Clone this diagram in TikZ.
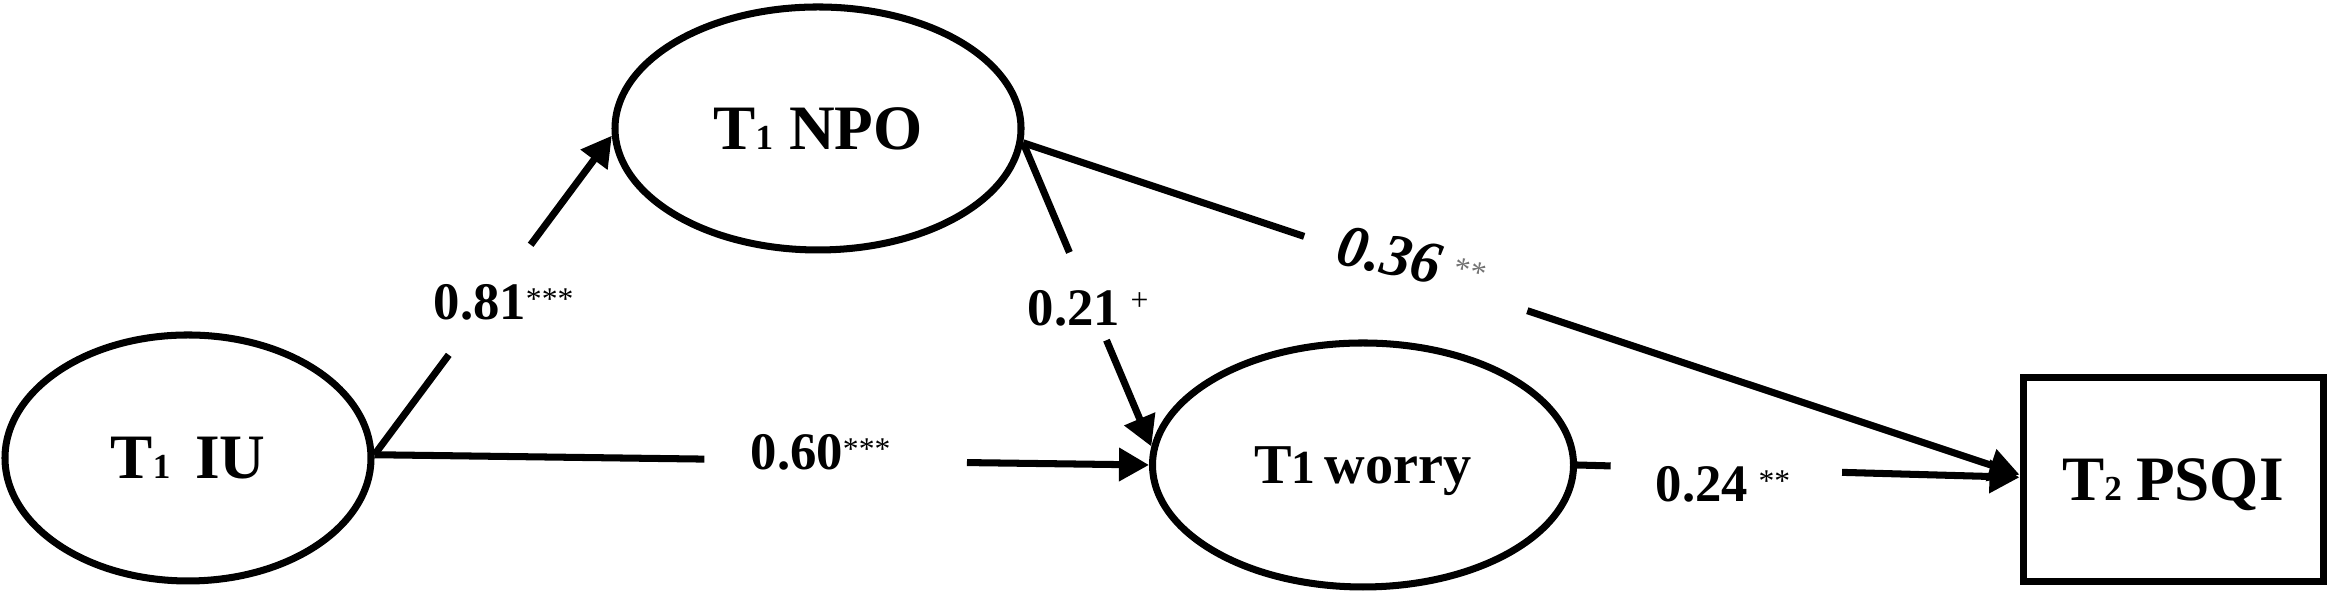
\documentclass[tikz,border=0pt]{standalone}
\usepackage{fontspec}
\setmainfont{Liberation Serif}
\usetikzlibrary{arrows.meta,calc,shapes.geometric}
\newcommand\mysub[1]{{\fontsize{10}{10}\selectfont #1}}
\newcommand\mystars[1]{\raisebox{3pt}{\fontsize{9}{9}\selectfont\mdseries\upshape #1}}
\newcommand\myplus{\raisebox{4.5pt}{\fontsize{9}{9}\selectfont\mdseries +}}
\begin{document}
\begin{tikzpicture}[
  lw/.style={line width=2pt},
  latent/.style={ellipse, draw, lw, inner sep=0pt, text depth=0pt,
    font=\bfseries\fontsize{18}{20}\selectfont},
  observed/.style={rectangle, draw, lw, inner sep=0pt, text depth=0pt,
    font=\bfseries\fontsize{18}{20}\selectfont},
  edge/.style={lw},
  arr/.style={lw,-{Triangle[length=0.30cm,width=0.32cm]}},
  coef/.style={inner sep=0pt, font=\bfseries\fontsize{15}{18}\selectfont},
]
\useasboundingbox (0,0) rectangle (23.33,5.96);

% nodes
\node[latent, minimum width=3.66cm, minimum height=2.46cm] (iu) at (1.88,1.38) {T\mysub{1}\hspace{7pt}IU};
\node[latent, minimum width=4.06cm, minimum height=2.43cm] (npo) at (8.18,4.675) {T\mysub{1} NPO};
\node[latent, minimum width=4.21cm, minimum height=2.44cm,
      font=\bfseries\fontsize{16}{18}\selectfont] (worry) at (13.63,1.31) {T{\fontsize{13.5}{14}\selectfont 1}\,worry};
\node[observed, minimum width=3.00cm, minimum height=2.04cm] (psqi) at (21.73,1.16) {T\mysub{2}\hspace{4pt}PSQI};

% IU -> NPO
\draw[edge] (iu.1) -- ($(iu.1)!0.313!(npo.182)$);
\draw[arr] ($(iu.1)!0.658!(npo.182)$) -- (npo.182);
% IU -> worry
\draw[edge] (iu.1) -- ($(iu.1)!0.426!(worry.west)$);
\draw[arr] ($(iu.1)!0.765!(worry.west)$) -- (worry.west);
% NPO -> worry
\draw[edge] (npo.-4) -- ($(npo.-4)!0.361!(worry.175)$);
\draw[arr] ($(npo.-4)!0.65!(worry.175)$) -- (worry.175);
% NPO -> PSQI
\draw[edge] (npo.-4) -- ($(npo.-4)!0.282!(psqi.178)$);
\draw[arr] ($(npo.-4)!0.506!(psqi.178)$) -- (psqi.178);
% worry -> PSQI
\draw[edge] (worry.east) -- ($(worry.east)!0.076!(psqi.179)$);
\draw[arr] ($(worry.east)!0.599!(psqi.179)$) -- (psqi.179);

% coefficients
\node[coef, anchor=base west] (l81) at (4.33,2.76) {0.81\mystars{***}};
\node[coef, anchor=base west] (l60) at (7.50,1.26) {0.60\mystars{***}};
\node[coef, anchor=base west] (l21) at (10.27,2.70) {0.21\hspace{3pt}\myplus};
\node[coef, rotate=-12, font=\bfseries\itshape\fontsize{17}{20}\selectfont] (l36) at (14.12,3.36) {0.36\hspace{4pt}\mystars{\color{black!55}**}};
\node[coef, anchor=base west] (l24) at (16.55,0.94) {0.24\hspace{3pt}\mystars{**}};
\end{tikzpicture}
\end{document}
